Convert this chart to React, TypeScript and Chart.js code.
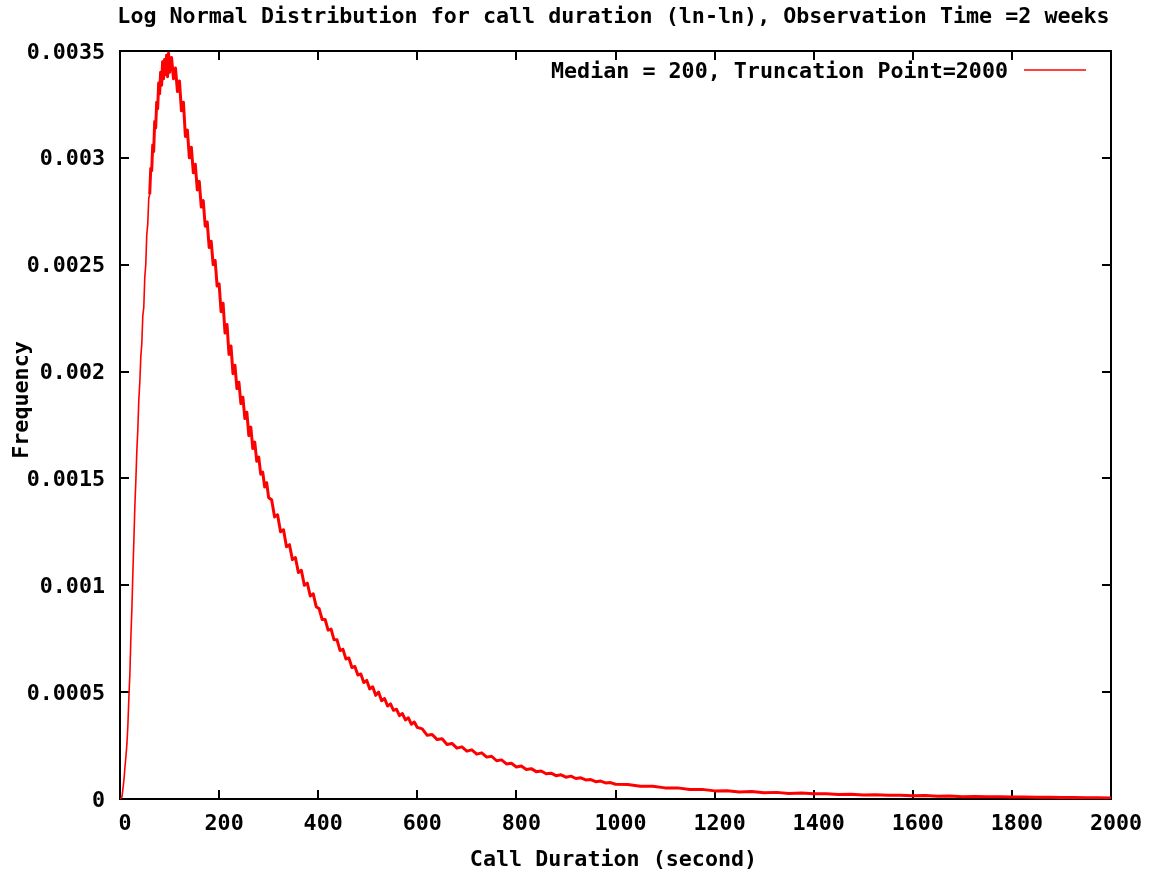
import React, { useEffect, useRef } from "react";
import { Chart, registerables } from "chart.js";

Chart.register(...registerables);

const chartTitle =
  "Log Normal Distribution for call duration (ln-ln), Observation Time =2 weeks";
const xAxisTitle = "Call Duration (second)";
const yAxisTitle = "Frequency";
const seriesLabel = "Median = 200, Truncation Point=2000";

const xTickValues = [0, 200, 400, 600, 800, 1000, 1200, 1400, 1600, 1800, 2000];
const yTickValues = [0, 0.0005, 0.001, 0.0015, 0.002, 0.0025, 0.003, 0.0035];
const yTickLabels = ["0", "0.0005", "0.001", "0.0015", "0.002", "0.0025", "0.003", "0.0035"];

// call duration (seconds)
const durations = [
  0, 2, 4, 6, 8, 10, 12, 14, 16, 18, 20, 22, 24, 26, 28, 30, 32, 34, 36, 38, 40,
  42, 44, 46, 48, 50, 52, 54, 56, 58, 60, 62, 64, 66, 68, 70, 72, 74, 76, 78, 80,
  82, 84, 86, 88, 90, 92, 94, 96, 98, 100,
  104, 108, 112, 116, 120, 124, 128, 132, 136, 140, 144, 148, 152, 156, 160, 164,
  168, 172, 176, 180, 184, 188, 192, 196, 200, 204, 208, 212, 216, 220, 224, 228,
  232, 236, 240, 244, 248, 252, 256, 260, 264, 268, 272, 276, 280, 284, 288, 292,
  296, 300,
  306, 312, 318, 324, 330, 336, 342, 348, 354, 360, 366, 372, 378, 384, 390, 396,
  402, 408, 414, 420, 426, 432, 438, 444, 450, 456, 462, 468, 474, 480, 486, 492,
  498, 504, 510, 516, 522, 528, 534, 540, 546, 552, 558, 564, 570, 576, 582, 588,
  594, 600,
  610, 620, 630, 640, 650, 660, 670, 680, 690, 700, 710, 720, 730, 740, 750, 760,
  770, 780, 790, 800, 810, 820, 830, 840, 850, 860, 870, 880, 890, 900, 910, 920,
  930, 940, 950, 960, 970, 980, 990, 1000,
  1025, 1050, 1075, 1100, 1125, 1150, 1175, 1200, 1225, 1250, 1275, 1300, 1325,
  1350, 1375, 1400, 1425, 1450, 1475, 1500, 1525, 1550, 1575, 1600, 1625, 1650,
  1675, 1700, 1725, 1750, 1775, 1800, 1825, 1850, 1875, 1900, 1925, 1950, 1975,
  2000,
];

// observed frequency
const frequencies = [
  0, 0, 0.1e-4, 0.5e-4, 0.9e-4, 1.5e-4, 2.0e-4, 2.6e-4, 3.5e-4, 4.8e-4, 5.9e-4,
  7.6e-4, 8.9e-4, 10.6e-4, 12.1e-4, 13.7e-4, 14.9e-4, 16.3e-4, 17.3e-4, 18.7e-4,
  19.5e-4, 20.7e-4, 21.3e-4, 22.6e-4, 23.0e-4, 24.4e-4, 25.0e-4, 26.4e-4, 26.9e-4,
  28.1e-4, 28.3e-4, 29.5e-4, 29.4e-4, 30.6e-4, 30.3e-4, 31.7e-4, 31.4e-4, 32.6e-4,
  32.3e-4, 33.5e-4, 33.0e-4, 34.0e-4, 33.4e-4, 34.5e-4, 33.7e-4, 34.6e-4, 33.9e-4,
  34.8e-4, 33.8e-4, 34.9e-4, 34.0e-4,
  34.7e-4, 33.7e-4, 34.2e-4, 33.1e-4, 33.6e-4, 32.2e-4, 32.6e-4, 31.0e-4, 31.3e-4,
  30.0e-4, 30.5e-4, 29.3e-4, 29.7e-4, 28.5e-4, 28.9e-4, 27.7e-4, 28.0e-4, 26.8e-4,
  27.0e-4, 25.8e-4, 26.1e-4, 25.0e-4, 25.2e-4, 24.0e-4, 24.1e-4, 22.8e-4, 23.2e-4,
  21.8e-4, 22.2e-4, 20.8e-4, 21.2e-4, 19.9e-4, 20.3e-4, 19.2e-4, 19.5e-4, 18.5e-4,
  18.8e-4, 17.8e-4, 18.1e-4, 17.0e-4, 17.4e-4, 16.4e-4, 16.7e-4, 15.8e-4, 16.0e-4,
  15.2e-4, 15.3e-4, 14.6e-4, 14.8e-4, 14.1e-4,
  14.0e-4, 13.2e-4, 13.3e-4, 12.5e-4, 12.6e-4, 11.8e-4, 11.9e-4, 11.2e-4, 11.3e-4,
  10.6e-4, 10.7e-4, 10.0e-4, 10.1e-4, 9.5e-4, 9.6e-4, 9.0e-4, 8.9e-4, 8.4e-4,
  8.4e-4, 7.9e-4, 7.95e-4, 7.45e-4, 7.45e-4, 6.95e-4, 7.0e-4, 6.55e-4, 6.6e-4,
  6.15e-4, 6.2e-4, 5.8e-4, 5.85e-4, 5.45e-4, 5.55e-4, 5.15e-4, 5.25e-4, 4.85e-4,
  5.0e-4, 4.6e-4, 4.7e-4, 4.35e-4, 4.45e-4, 4.15e-4, 4.2e-4, 3.9e-4, 4.0e-4,
  3.7e-4, 3.8e-4, 3.5e-4, 3.6e-4, 3.35e-4,
  3.28e-4, 2.98e-4, 3.02e-4, 2.78e-4, 2.82e-4, 2.55e-4, 2.6e-4, 2.38e-4, 2.44e-4,
  2.24e-4, 2.3e-4, 2.1e-4, 2.16e-4, 1.96e-4, 2.0e-4, 1.79e-4, 1.83e-4, 1.64e-4,
  1.67e-4, 1.5e-4, 1.54e-4, 1.38e-4, 1.42e-4, 1.28e-4, 1.31e-4, 1.18e-4, 1.21e-4,
  1.09e-4, 1.13e-4, 1.02e-4, 1.07e-4, 0.96e-4, 0.99e-4, 0.89e-4, 0.91e-4, 0.81e-4,
  0.84e-4, 0.75e-4, 0.77e-4, 0.69e-4,
  0.68e-4, 0.6e-4, 0.6e-4, 0.52e-4, 0.52e-4, 0.44e-4, 0.45e-4, 0.38e-4, 0.39e-4,
  0.33e-4, 0.35e-4, 0.29e-4, 0.31e-4, 0.26e-4, 0.28e-4, 0.24e-4, 0.24e-4, 0.21e-4,
  0.22e-4, 0.19e-4, 0.2e-4, 0.17e-4, 0.18e-4, 0.15e-4, 0.16e-4, 0.13e-4, 0.14e-4,
  0.11e-4, 0.12e-4, 0.1e-4, 0.1e-4, 0.09e-4, 0.09e-4, 0.08e-4, 0.08e-4, 0.07e-4,
  0.07e-4, 0.06e-4, 0.06e-4, 0.05e-4,
];

const FONT_FAMILY = '"DejaVu Sans Mono", "Liberation Mono", monospace';
const FONT_SIZE = 21.7;
const LINE_COLOR = "#ff0000";

export default function App() {
  const canvasRef = useRef<HTMLCanvasElement | null>(null);

  useEffect(() => {
    const canvas = canvasRef.current;
    if (!canvas) return;

    const points = durations.map((d, i) => ({ x: d, y: frequencies[i] }));
    const font = { family: FONT_FAMILY, size: FONT_SIZE, weight: "bold" as const };

    const gnuplotDecor = {
      id: "gnuplotDecor",
      beforeDatasetsDraw(chart: any) {
        const { ctx, chartArea: a, scales } = chart;
        const left = Math.round(a.left);
        const right = Math.round(a.right);
        const top = Math.round(a.top);
        const bottom = Math.round(a.bottom);
        const tl = 9;
        ctx.save();
        ctx.strokeStyle = "#000";
        ctx.lineWidth = 2;
        ctx.beginPath();
        ctx.rect(left, top, right - left, bottom - top);
        ctx.stroke();
        ctx.beginPath();
        scales.x.ticks.forEach((t: any) => {
          const px = Math.round(scales.x.getPixelForValue(t.value));
          ctx.moveTo(px, bottom);
          ctx.lineTo(px, bottom - tl);
          ctx.moveTo(px, top);
          ctx.lineTo(px, top + tl);
        });
        scales.y.ticks.forEach((t: any) => {
          const py = Math.round(scales.y.getPixelForValue(t.value));
          ctx.moveTo(left, py);
          ctx.lineTo(left + tl, py);
          ctx.moveTo(right, py);
          ctx.lineTo(right - tl, py);
        });
        ctx.stroke();
        ctx.restore();
      },
      afterDraw(chart: any) {
        const { ctx } = chart;
        ctx.save();
        ctx.fillStyle = "#000";
        ctx.font = `bold ${FONT_SIZE}px ${FONT_FAMILY}`;
        ctx.textBaseline = "alphabetic";
        ctx.textAlign = "center";
        ctx.fillText(chartTitle, 613.5, 23);
        ctx.fillText(xAxisTitle, 613.5, 866);
        ctx.save();
        ctx.translate(28, 400);
        ctx.rotate(-Math.PI / 2);
        ctx.textAlign = "center";
        ctx.fillText(yAxisTitle, 0, 0);
        ctx.restore();
        ctx.textAlign = "right";
        ctx.fillText(chart.data.datasets[0].label, 1008, 78);
        ctx.strokeStyle = chart.data.datasets[0].borderColor;
        ctx.lineWidth = 1.5;
        ctx.beginPath();
        ctx.moveTo(1024, 70);
        ctx.lineTo(1086, 70);
        ctx.stroke();
        ctx.restore();
      },
    };

    const chart = new Chart(canvas, {
      type: "line",
      data: {
        datasets: [
          {
            label: seriesLabel,
            data: points,
            borderColor: LINE_COLOR,
            backgroundColor: LINE_COLOR,
            borderWidth: 3,
            borderJoinStyle: "round",
            pointRadius: 0,
            fill: false,
            tension: 0,
            segment: {
              borderWidth: (c: any) => (c.p0.parsed.x < 60 ? 1.6 : 3),
            },
          },
        ],
      },
      options: {
        animation: false,
        responsive: false,
        devicePixelRatio: 1,
        layout: { padding: { top: 51, right: 40, left: 0, bottom: 0 } },
        plugins: {
          legend: { display: false },
          title: { display: false },
          tooltip: { enabled: false },
        },
        scales: {
          x: {
            type: "linear",
            min: 0,
            max: 2000,
            afterFit: (s: any) => {
              s.height = 73;
            },
            afterBuildTicks: (s: any) => {
              s.ticks = xTickValues.map((v) => ({ value: v }));
            },
            grid: { display: false, drawTicks: false },
            border: { display: false },
            ticks: {
              padding: 12,
              labelOffset: 5,
              font,
              color: "#000",
              maxRotation: 0,
              autoSkip: false,
              callback: (v: any) => String(v),
            },
          },
          y: {
            type: "linear",
            min: 0,
            max: 0.0035,
            afterFit: (s: any) => {
              s.width = 120;
            },
            afterBuildTicks: (s: any) => {
              s.ticks = yTickValues.map((v) => ({ value: v }));
            },
            grid: { display: false, drawTicks: false },
            border: { display: false },
            ticks: {
              padding: 15,
              labelOffset: 2,
              font,
              color: "#000",
              autoSkip: false,
              callback: (_v: any, i: number) => yTickLabels[i],
            },
          },
        },
      },
      plugins: [gnuplotDecor],
    });

    return () => chart.destroy();
  }, []);

  return (
    <div
      style={{
        position: "fixed",
        left: 0,
        top: 0,
        width: 1151,
        height: 872,
        background: "#fff",
      }}
    >
      <canvas ref={canvasRef} width={1151} height={872} style={{ display: "block" }} />
    </div>
  );
}
